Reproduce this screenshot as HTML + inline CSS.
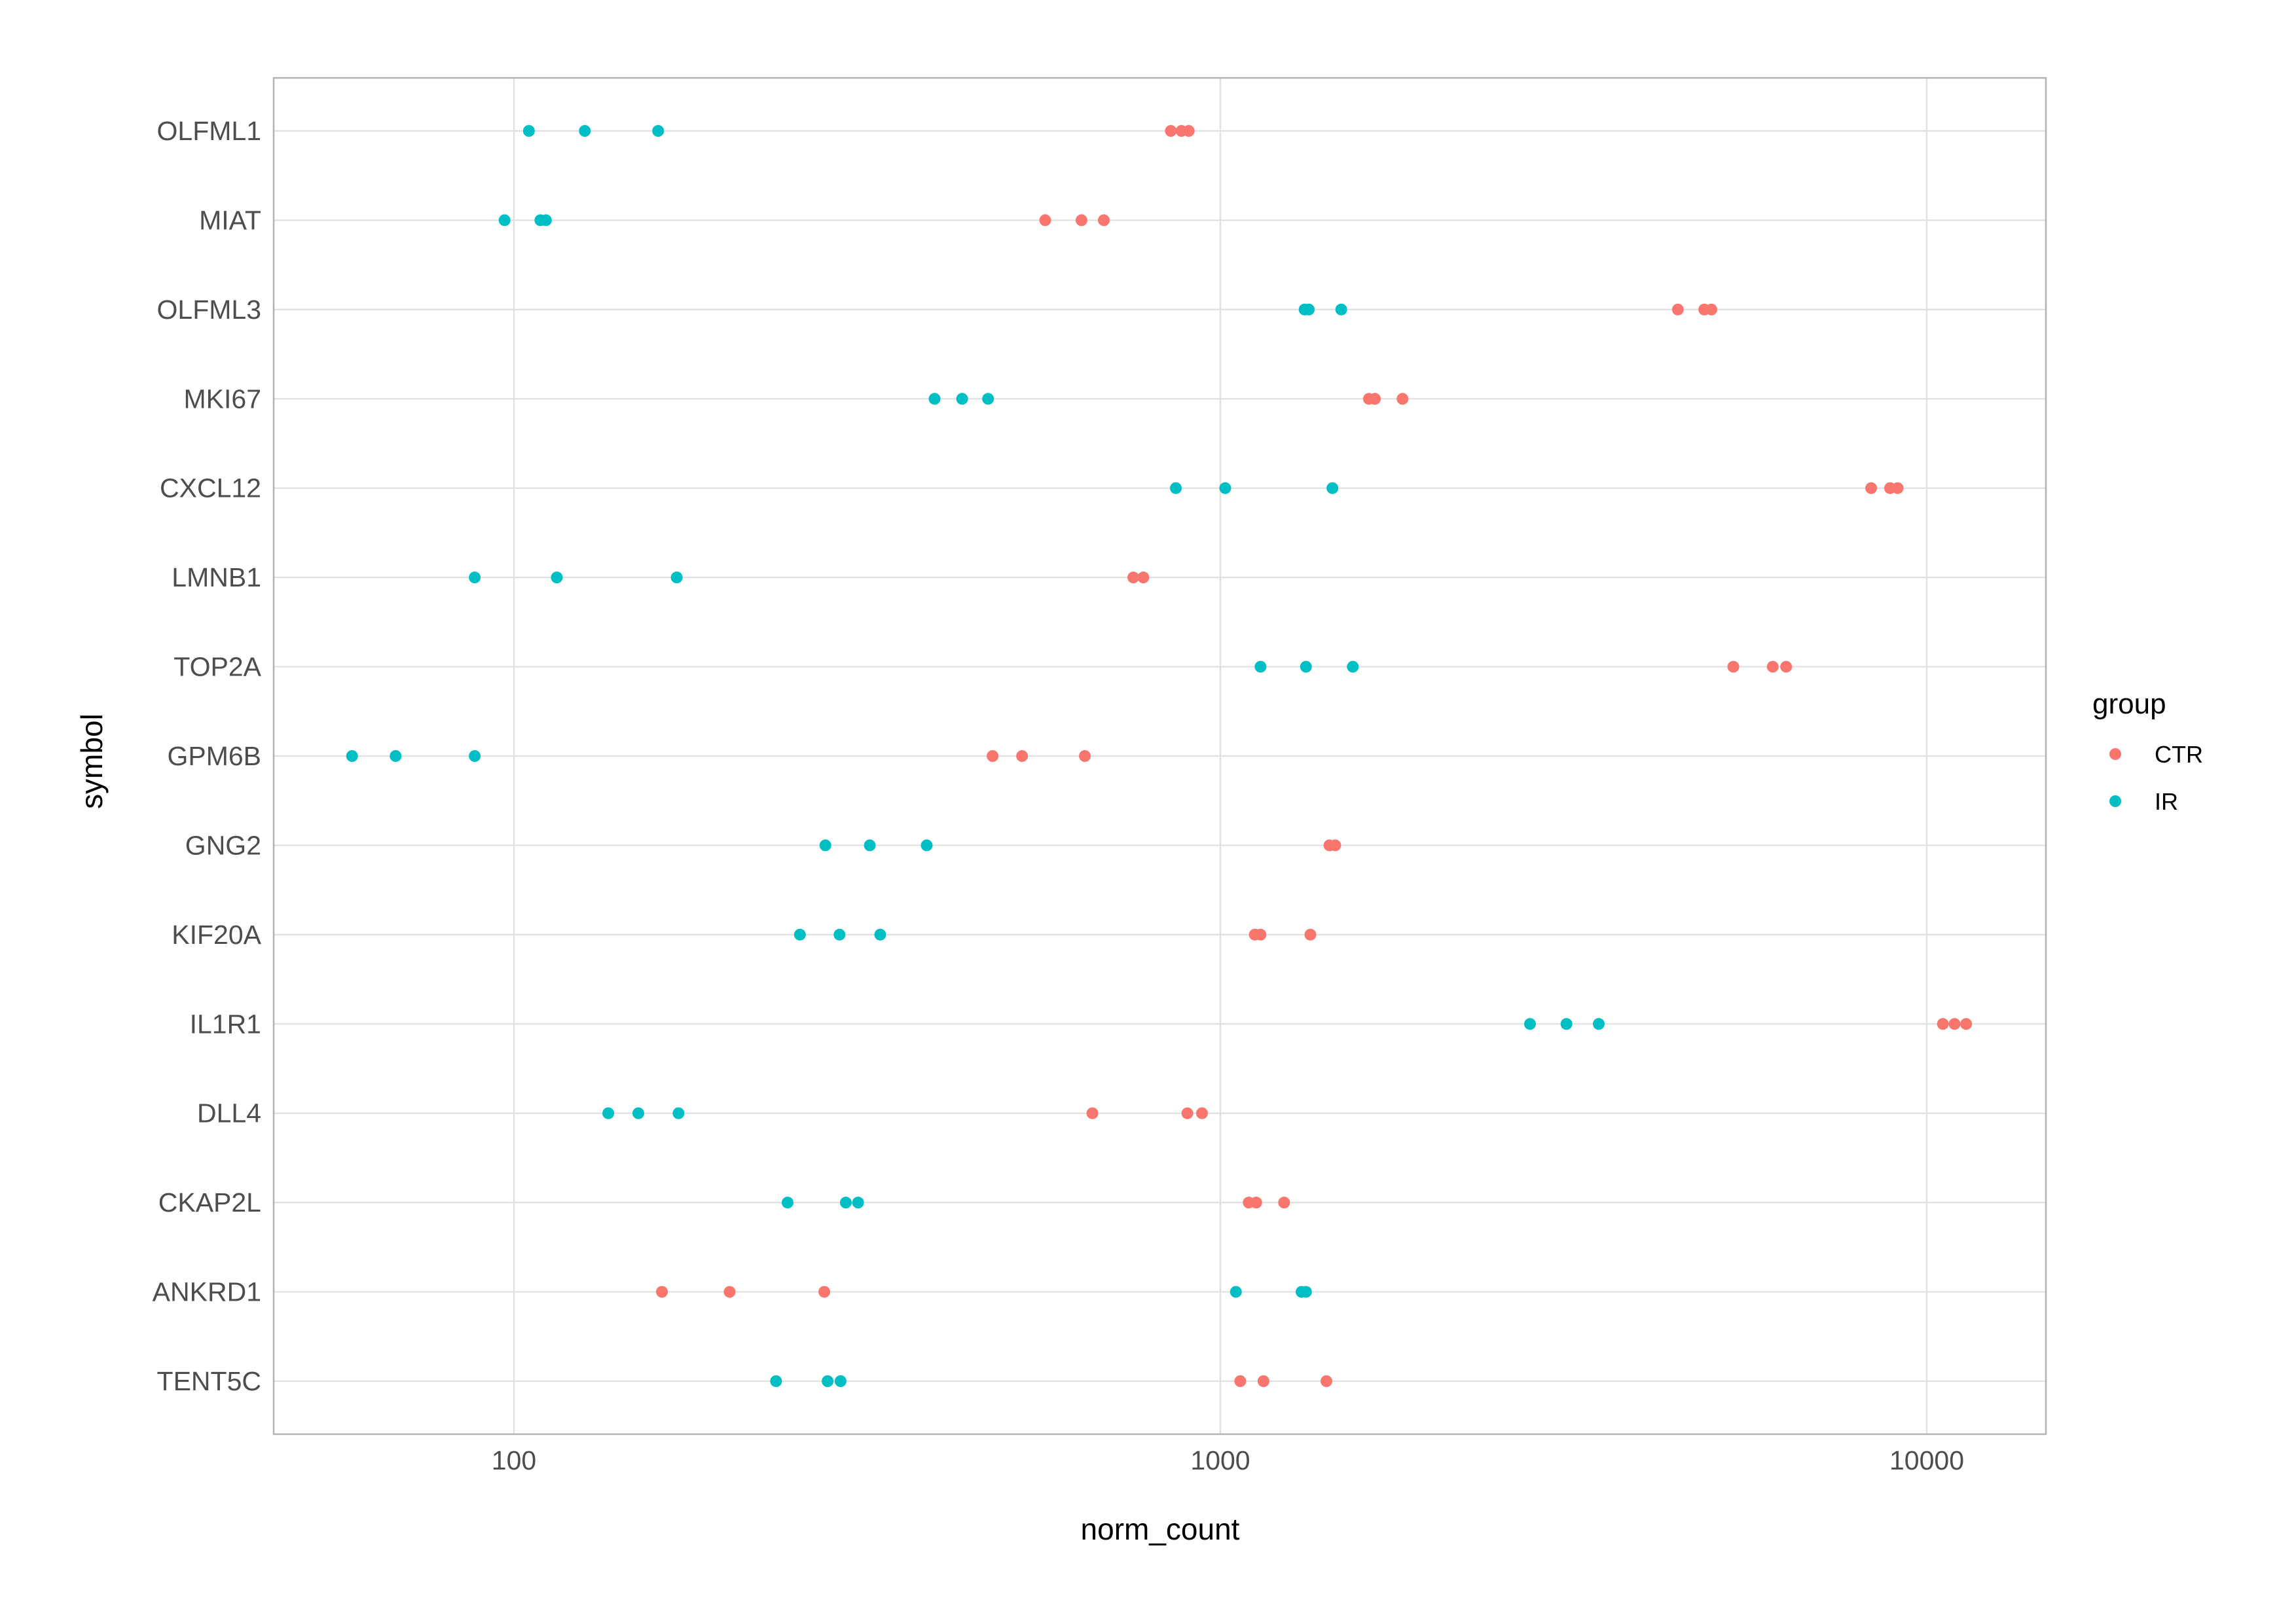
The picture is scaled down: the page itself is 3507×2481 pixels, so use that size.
<!DOCTYPE html>
<html><head><meta charset="utf-8"><style>
html,body{margin:0;padding:0;background:#fff;}
svg{display:block;font-family:"Liberation Sans",Arial,sans-serif;}
</style></head><body>
<svg id="chart" width="3507" height="2481" viewBox="0 0 3507 2481" xmlns="http://www.w3.org/2000/svg">
<rect x="0" y="0" width="3507" height="2481" fill="#fff"/>
<g id="grid"></g>
<g id="ylabels"></g>
<g id="xlabels"></g>
<g id="points"></g>
<rect x="418" y="119" width="2707" height="2072" fill="none" stroke="#b3b3b3" stroke-width="2.5"/>
<text x="1772" y="2352" font-size="46" fill="#000" text-anchor="middle">norm_count</text>
<text x="0" y="0" font-size="46" fill="#000" text-anchor="middle" transform="translate(156,1163) rotate(-90)">symbol</text>
<g>
<text x="3196" y="1090" font-size="44" fill="#000">group</text>
<circle cx="3231" cy="1152" r="9" fill="#F8766D"/>
<text x="3291" y="1165" font-size="36" fill="#000">CTR</text>
<circle cx="3231" cy="1224" r="9" fill="#00BFC4"/>
<text x="3291" y="1237" font-size="36" fill="#000">IR</text>
</g>
</svg>
<script>
const symbols = ["OLFML1","MIAT","OLFML3","MKI67","CXCL12","LMNB1","TOP2A","GPM6B","GNG2","KIF20A","IL1R1","DLL4","CKAP2L","ANKRD1","TENT5C"];
const ctrValues = [
 [851,881,902],[565,636,684],[4443,4842,4955],[1623,1655,1811],[8343,8873,9095],
 [753,778],[5324,6053,6323],[476,524,643],[1427,1454],[1119,1140,1341],
 [10540,10950,11370],[659,898,942],[1097,1124,1231],[162,202,275],[1067,1151,1413]];
const irValues = [
 [105,126,160],[97,109,111],[1316,1334,1483],[394,431,469],[865,1016,1441],
 [88,115,170],[1140,1322,1540],[59,68,88],[276,319,384],[254,289,330],
 [2744,3090,3433],[136,150,171],[244,295,307],[1052,1303,1322],[235,278,290]];
const xTicks = [100,1000,10000];
const xTickLabels = ["100","1000","10000"];

const NS = "http://www.w3.org/2000/svg";
const PL=418, PR=3125, PT=119, PB=2191;
function xScale(v){ return 785 + (Math.log10(v) - 2) * 1079; }
function yScale(i){ return 200 + i * (2110 - 200) / (symbols.length - 1); }
function mk(tag, attrs, parent){ const e=document.createElementNS(NS,tag); for(const k in attrs) e.setAttribute(k, attrs[k]); parent.appendChild(e); return e; }

const grid=document.getElementById('grid'), yl=document.getElementById('ylabels'), xl=document.getElementById('xlabels'), pts=document.getElementById('points');
symbols.forEach((s,i)=>{
  const y=yScale(i);
  const ln=mk('line',{x1:PL,x2:PR,y1:y,y2:y,stroke:'#e0e0e0','stroke-width':2.2},grid);
  
  
  const t=mk('text',{x:399,y:y+14,'font-size':41,fill:'#4d4d4d','text-anchor':'end'},yl);
  t.textContent=s;
  
  
});
xTicks.forEach((v,i)=>{
  const x=xScale(v);
  const ln=mk('line',{x1:x,x2:x,y1:PT,y2:PB,stroke:'#e0e0e0','stroke-width':2.2},grid);
  
  
  const t=mk('text',{x:x,y:2245,'font-size':41,fill:'#4d4d4d','text-anchor':'middle'},xl);
  t.textContent=xTickLabels[i];
  
  
});
function drawSeries(vals,color,name){
  vals.forEach((row,i)=>{
    row.forEach(v=>{
      const c=mk('circle',{cx:xScale(v),cy:yScale(i),r:9,fill:color},pts);
      
      
    });
  });
}
drawSeries(ctrValues,'#F8766D','point-ctr');
drawSeries(irValues,'#00BFC4','point-ir');
</script>
</body></html>
